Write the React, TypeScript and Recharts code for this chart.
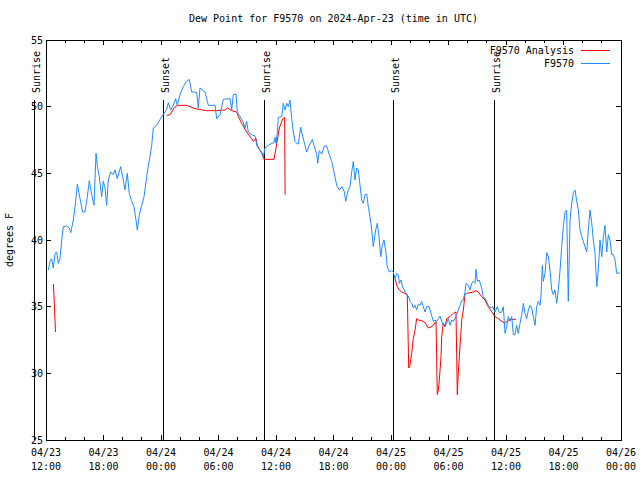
import {
  Legend,
  Line,
  LineChart,
  ReferenceArea,
  ReferenceLine,
  XAxis,
  YAxis,
} from "recharts";

const FONT = "'DejaVu Sans Mono', monospace";
const BLUE = "#1e8cff";
const RED = "#ff0000";
const PLOT_W = 575;
const PLOT_H = 400;
const TICK = 5;

// hours since 04/23 12:00 UTC
const TICK_HOURS = [0, 6, 12, 18, 24, 30, 36, 42, 48, 54, 60];
const TICK_DATES = ["04/23", "04/23", "04/24", "04/24", "04/24", "04/24", "04/25", "04/25", "04/25", "04/25", "04/26"];
const TICK_TIMES = ["12:00", "18:00", "00:00", "06:00", "12:00", "18:00", "00:00", "06:00", "12:00", "18:00", "00:00"];
const MINOR_HOURS = Array.from({ length: 31 }, (_, i) => i * 2);
const DEW_TICKS = [25, 30, 35, 40, 45, 50, 55];

const SUN_EVENTS = ["Sunrise", "Sunset", "Sunrise", "Sunset", "Sunrise"];
const SUN_HOURS = [-1.15, 12.31, 22.85, 36.31, 46.85];

// [hour, dew point F]
const F9570: [number, number][] = [
  [0.24, 37.75], [0.42, 38.4], [0.59, 38.6], [0.76, 37.9], [0.94, 39.0], [1.12, 39.1], [1.28, 38.25], [1.46, 38.6],
  [1.64, 40.0], [1.81, 41.0], [2.16, 41.05], [2.43, 40.9], [2.58, 40.55], [2.85, 41.5], [3.1, 42.9], [3.27, 44.2],
  [3.55, 43.1], [3.83, 42.1], [4.07, 42.1], [4.31, 43.25], [4.52, 44.45], [4.77, 43.4], [5.01, 42.6], [5.22, 46.5],
  [5.35, 45.6], [5.56, 44.75], [5.81, 43.25], [5.98, 44.4], [6.16, 43.9], [6.33, 42.6], [6.5, 44.5], [6.75, 45.1],
  [7.02, 44.9], [7.2, 45.25], [7.44, 44.6], [7.79, 45.5], [8.07, 44.5], [8.24, 43.75], [8.48, 45.0], [8.69, 43.5],
  [8.94, 42.9], [9.18, 42.5], [9.39, 41.5], [9.53, 40.75], [9.74, 41.9], [9.99, 42.6], [10.23, 43.25], [10.51, 44.75],
  [10.68, 45.6], [10.85, 46.25], [11.03, 47.1], [11.2, 48.4], [11.55, 48.6], [11.9, 49.05], [12.31, 49.5], [12.6, 49.8],
  [12.76, 50.3], [13.01, 49.75], [13.28, 50.1], [13.53, 50.6], [13.7, 50.1], [13.98, 50.9], [14.33, 51.5], [14.68, 51.9],
  [14.95, 52.05], [15.2, 51.1], [15.44, 51.1], [15.73, 51.05], [15.89, 49.9], [16.07, 51.4], [16.59, 51.1], [16.94, 50.1],
  [17.64, 50.1], [17.81, 49.1], [18.16, 49.4], [18.5, 50.55], [19.2, 50.6], [19.38, 49.75], [19.54, 50.9], [19.83, 50.95],
  [19.96, 49.6], [20.24, 49.25], [20.53, 48.9], [20.77, 48.4], [20.94, 48.9], [21.11, 48.1], [21.46, 47.9], [21.81, 47.8],
  [21.99, 47.1], [22.15, 46.9], [22.51, 46.6], [22.68, 46.25], [22.85, 46.9], [23.2, 47.1], [23.55, 47.25], [23.79, 47.3],
  [23.9, 47.7], [24.0, 47.25], [24.14, 48.1], [24.24, 49.2], [24.6, 49.25], [24.76, 50.25], [24.94, 49.75], [25.12, 50.25],
  [25.28, 50.0], [25.46, 50.5], [25.64, 49.1], [25.81, 48.1], [25.98, 47.4], [26.22, 47.2], [26.33, 47.2], [26.58, 48.45],
  [26.68, 48.1], [26.92, 47.4], [27.2, 46.6], [27.48, 47.1], [27.79, 47.55], [28.0, 47.0], [28.25, 46.4], [28.35, 45.75],
  [28.52, 46.7], [28.77, 46.45], [29.04, 47.05], [29.29, 47.05], [29.56, 46.4], [29.81, 45.9], [30.05, 45.1], [30.33, 44.1],
  [30.61, 43.75], [30.89, 44.0], [31.13, 43.6], [31.27, 42.9], [31.55, 43.8], [31.72, 44.0], [31.9, 45.1], [32.07, 45.9],
  [32.24, 44.5], [32.42, 45.4], [32.59, 45.25], [32.77, 44.1], [32.94, 43.0], [33.11, 42.75], [33.29, 43.4], [33.47, 43.45],
  [33.63, 42.5], [33.81, 41.75], [33.99, 40.75], [34.15, 39.5], [34.4, 40.75], [34.57, 41.25], [34.75, 40.25], [34.93, 38.75],
  [35.09, 39.6], [35.27, 40.0], [35.48, 39.0], [35.61, 38.0], [35.82, 37.6], [36.07, 37.7], [36.24, 37.6], [36.42, 37.1],
  [36.6, 37.5], [36.76, 37.4], [36.87, 36.75], [37.04, 37.0], [37.22, 36.45], [37.36, 36.3], [37.57, 35.9], [37.81, 35.8],
  [37.98, 35.4], [38.16, 35.25], [38.33, 34.9], [38.51, 35.1], [38.68, 34.75], [38.85, 35.2], [39.03, 35.1], [39.2, 35.4],
  [39.37, 35.0], [39.55, 34.6], [39.73, 35.0], [39.97, 35.0], [40.14, 34.6], [40.41, 33.9], [40.59, 34.0], [40.77, 33.9],
  [40.94, 34.1], [41.11, 34.3], [41.29, 33.9], [41.46, 33.6], [41.64, 33.5], [41.81, 33.75], [41.98, 34.1], [42.16, 33.6],
  [42.33, 34.0], [42.5, 33.9], [42.68, 34.1], [42.86, 34.4], [43.02, 34.75], [43.2, 35.1], [43.38, 35.45], [43.55, 35.5],
  [43.72, 36.1], [43.83, 36.75], [44.07, 36.6], [44.24, 36.25], [44.42, 36.75], [44.59, 36.9], [44.77, 36.75], [44.87, 37.8],
  [45.01, 36.9], [45.21, 37.0], [45.46, 36.4], [45.63, 35.75], [45.91, 35.5], [46.15, 35.1], [46.4, 34.9], [46.61, 35.0],
  [46.85, 34.6], [47.09, 35.0], [47.3, 34.55], [47.55, 34.6], [47.72, 35.0], [47.9, 33.0], [48.07, 33.5], [48.24, 34.25],
  [48.42, 33.9], [48.6, 34.25], [48.76, 32.9], [48.94, 32.9], [49.12, 33.6], [49.28, 33.0], [49.46, 33.75], [49.64, 34.4],
  [49.81, 35.25], [49.98, 34.5], [50.16, 34.1], [50.33, 34.75], [50.51, 35.1], [50.68, 34.9], [50.85, 34.25], [51.03, 33.6],
  [51.2, 35.0], [51.37, 35.4], [51.55, 35.1], [51.65, 35.75], [51.79, 38.1], [51.89, 36.9], [52.07, 37.5], [52.25, 39.05],
  [52.42, 38.75], [52.59, 37.75], [52.77, 36.25], [52.94, 35.9], [53.11, 36.25], [53.29, 35.25], [53.46, 36.25], [53.64, 37.75],
  [53.81, 39.5], [53.98, 41.0], [54.16, 42.1], [54.33, 42.25], [54.5, 35.4], [54.68, 41.5], [54.86, 42.75], [55.02, 43.5],
  [55.2, 43.75], [55.38, 42.9], [55.55, 42.25], [55.72, 40.75], [55.9, 40.25], [56.07, 39.9], [56.24, 39.5], [56.42, 39.1],
  [56.59, 40.75], [56.77, 42.25], [56.95, 41.25], [57.11, 40.0], [57.29, 39.0], [57.47, 36.5], [57.63, 37.75], [57.81, 40.0],
  [57.99, 38.75], [58.16, 40.25], [58.33, 41.1], [58.51, 39.1], [58.68, 40.4], [58.85, 40.0], [59.03, 38.9], [59.2, 38.9],
  [59.38, 38.5], [59.55, 37.5], [59.72, 37.5], [59.9, 37.55],
];

// analysis, null = gap
const F9570_ANALYSIS: [number, number | null][] = [
  [0.78, 36.7], [0.99, 33.1], [6, null],
  [12.6, 49.35], [12.94, 49.4], [13.36, 49.9], [13.7, 50.1], [14.68, 50.1], [15.37, 49.9], [15.89, 49.8], [16.77, 49.7],
  [17.81, 49.7], [18.68, 49.75], [18.92, 49.9], [19.38, 49.7], [19.9, 49.6], [20.07, 49.25], [20.42, 48.75], [20.94, 48.1],
  [21.46, 47.6], [21.63, 47.4], [21.91, 47.6], [22.05, 47.1], [22.51, 46.5], [22.75, 46.05], [23.79, 46.05], [24.0, 46.9],
  [24.35, 48.4], [24.7, 49.1], [24.9, 49.2], [24.95, 43.4], [30, null],
  [36.42, 37.1], [36.66, 36.5], [36.87, 36.25], [37.12, 36.1], [37.46, 36.0], [37.7, 35.9], [37.85, 30.4], [37.98, 30.6],
  [38.16, 31.5], [38.33, 32.6], [38.51, 33.25], [38.68, 34.1], [38.85, 34.0], [39.2, 33.95], [39.55, 33.8], [39.89, 33.4],
  [40.07, 33.45], [40.41, 33.6], [40.7, 33.9], [40.83, 28.4], [40.94, 28.75], [41.04, 29.5], [41.22, 31.25], [41.29, 32.75],
  [41.46, 33.75], [41.64, 33.5], [41.81, 34.1], [42.16, 34.25], [42.5, 34.5], [42.78, 34.6], [42.92, 28.4], [43.02, 30.0],
  [43.13, 31.25], [43.27, 32.75], [43.38, 34.0], [43.55, 34.75], [43.72, 35.9], [43.9, 36.0], [44.24, 36.05], [44.59, 36.1],
  [44.84, 36.2], [45.11, 36.1], [45.46, 35.75], [45.81, 35.5], [46.15, 35.0], [46.51, 34.6], [46.85, 34.25], [47.2, 34.1],
  [47.55, 33.9], [47.9, 33.75], [48.24, 34.0], [48.6, 34.05], [49.04, 34.05],
];

const stationData = F9570.map(([t, v]) => ({ t, v }));
const analysisData = F9570_ANALYSIS.map(([t, v]) => ({ t, v }));

const textStyle = { fontFamily: FONT, fontSize: 10, fill: "#000" };

function TimeTick(props: any) {
  const { x, y, payload } = props;
  const idx = TICK_HOURS.indexOf(payload.value);
  const len = idx >= 0 ? TICK : 3;
  return (
    <g shapeRendering="crispEdges">
      <line x1={x} y1={y} x2={x} y2={y - len} stroke="#000" />
      <line x1={x} y1={y - PLOT_H} x2={x} y2={y - PLOT_H + len} stroke="#000" />
      {idx >= 0 && (
        <text x={x} y={y + 16} textAnchor="middle" style={textStyle}>
          {TICK_DATES[idx]}
        </text>
      )}
      {idx >= 0 && (
        <text x={x} y={y + 30} textAnchor="middle" style={textStyle}>
          {TICK_TIMES[idx]}
        </text>
      )}
    </g>
  );
}

function DewTick(props: any) {
  const { x, y, payload } = props;
  return (
    <g shapeRendering="crispEdges">
      <line x1={x} y1={y} x2={x + TICK} y2={y} stroke="#000" />
      <line x1={x + PLOT_W} y1={y} x2={x + PLOT_W - TICK} y2={y} stroke="#000" />
      <text x={x - 3} y={y + 3.5} textAnchor="end" style={textStyle}>
        {payload.value}
      </text>
    </g>
  );
}

function sunLabel(text: string) {
  return (props: any) => {
    const vb = props.viewBox;
    if (!vb) return null;
    const lx = vb.x + 5;
    const ly = vb.y - 7;
    return (
      <text
        x={lx}
        y={ly}
        transform={`rotate(-90 ${lx} ${ly})`}
        textAnchor="start"
        style={textStyle}
      >
        {text}
      </text>
    );
  };
}

const LEGEND_ITEMS = [
  { name: "F9570 Analysis", color: RED },
  { name: "F9570", color: BLUE },
];

function renderLegend() {
  return (
    <div style={{ position: "relative", width: 640, height: 30, fontFamily: FONT, fontSize: 10 }}>
      {LEGEND_ITEMS.map((item, i) => (
        <div key={item.name}>
          <div
            style={{
              position: "absolute",
              top: i * 13,
              left: 0,
              width: 574,
              textAlign: "right",
              lineHeight: "13px",
            }}
          >
            {item.name}
          </div>
          <div
            style={{
              position: "absolute",
              top: i * 13 + 6,
              left: 581,
              width: 29,
              height: 0,
              borderTop: `1px solid ${item.color}`,
            }}
          />
        </div>
      ))}
    </div>
  );
}

export default function App() {
  return (
    <div
      style={{
        position: "absolute",
        left: 0,
        top: 0,
        width: 640,
        height: 480,
        background: "#fff",
        fontFamily: FONT,
        fontSize: 10,
      }}
    >
      <div
        style={{
          position: "absolute",
          top: 13,
          left: 0,
          width: 667,
          textAlign: "center",
          lineHeight: "12px",
        }}
      >
        Dew Point for F9570 on 2024-Apr-23 (time in UTC)
      </div>
      <div
        style={{
          position: "absolute",
          left: 10,
          top: 240,
          transform: "translate(-50%, -50%) rotate(-90deg)",
          whiteSpace: "nowrap",
          lineHeight: "12px",
        }}
      >
        degrees F
      </div>
      <LineChart
        width={640}
        height={480}
        margin={{ top: 40, right: 19, bottom: 10, left: 6 }}
        style={{ position: "absolute", left: 0, top: 0 }}
      >
        <XAxis
          type="number"
          dataKey="t"
          domain={[0, 60]}
          ticks={MINOR_HOURS}
          interval={0}
          tickSize={0}
          tickMargin={0}
          tickLine={false}
          axisLine={false}
          height={30}
          tick={<TimeTick />}
          allowDataOverflow
        />
        <YAxis
          type="number"
          domain={[25, 55]}
          ticks={DEW_TICKS}
          interval={0}
          tickSize={0}
          tickMargin={0}
          tickLine={false}
          axisLine={false}
          width={40}
          tick={<DewTick />}
          allowDataOverflow
        />
        <Legend
          layout="horizontal"
          verticalAlign="middle"
          align="center"
          content={renderLegend}
          wrapperStyle={{ top: 44, left: 0, width: 640, height: 30 }}
        />
        {SUN_HOURS.map((h, i) => (
          <ReferenceLine
            key={`sun-${i}`}
            segment={[
              { x: h, y: 50.5 },
              { x: h, y: 25 },
            ]}
            stroke="#000"
            strokeWidth={1}
            ifOverflow="visible"
            shapeRendering="crispEdges"
            label={sunLabel(SUN_EVENTS[i])}
          />
        ))}
        <Line
          data={analysisData}
          dataKey="v"
          name="F9570 Analysis"
          stroke={RED}
          strokeWidth={1}
          dot={false}
          activeDot={false}
          type="linear"
          connectNulls={false}
          isAnimationActive={false}
        />
        <Line
          data={stationData}
          dataKey="v"
          name="F9570"
          stroke={BLUE}
          strokeWidth={1}
          dot={false}
          activeDot={false}
          type="linear"
          isAnimationActive={false}
        />
        <ReferenceArea
          x1={0}
          x2={60}
          y1={25}
          y2={55}
          fill="none"
          stroke="#000"
          strokeWidth={1}
          shapeRendering="crispEdges"
        />
      </LineChart>
    </div>
  );
}
